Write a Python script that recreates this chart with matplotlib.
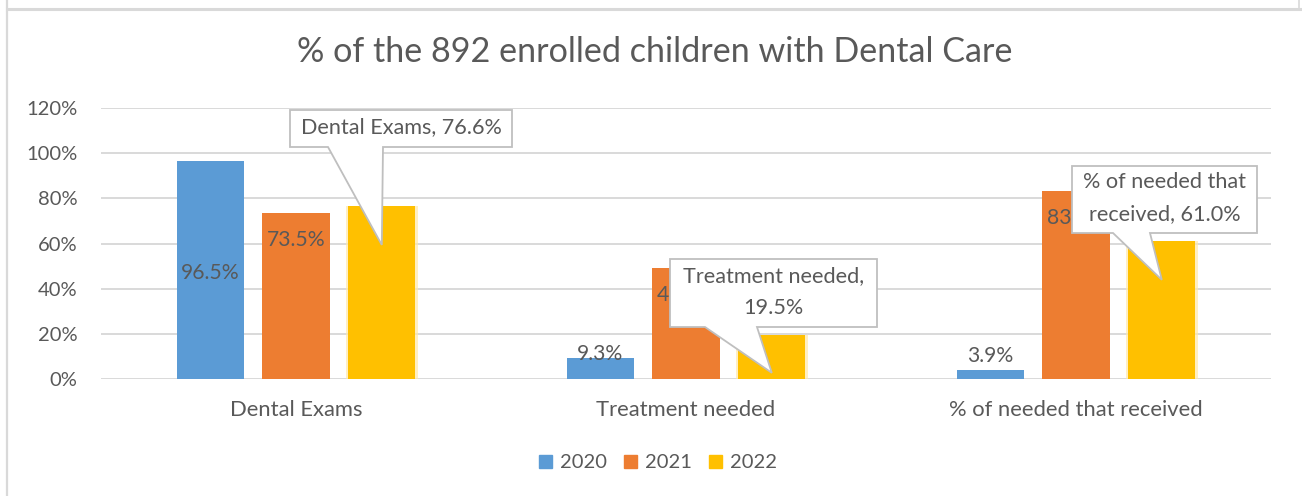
import matplotlib
matplotlib.use("Agg")
import matplotlib.pyplot as plt
import numpy as np
from matplotlib.patches import Polygon, Rectangle
from matplotlib.lines import Line2D

# ---- data ----
categories = ["Dental Exams", "Treatment needed", "% of needed that received"]
years = ["2020", "2021", "2022"]
vals_2020 = [96.5, 9.3, 3.9]
vals_2021 = [73.5, 49.2, 83.1]
vals_2022 = [76.6, 19.5, 61.0]
yticks = [0, 20, 40, 60, 80, 100, 120]
title = "% of the 892 enrolled children with Dental Care"

colors = ["#5B9BD5", "#ED7D31", "#FFC000"]
TXT = "#595959"
GRID = "#D9D9D9"
FONT = ["Lato", "DejaVu Sans"]
plt.rcParams["font.family"] = FONT

W, H = 1302, 496
fig = plt.figure(figsize=(W / 100, H / 100), dpi=100)
fig.patch.set_facecolor("white")

# axes in pixel layout
L, R, T, B = 101, 1271, 108, 379
ax = fig.add_axes([L / W, 1 - B / H, (R - L) / W, (B - T) / H])
ax.set_xlim(-0.5, 2.5)
ax.set_ylim(0, 120)
for s in ax.spines.values():
    s.set_visible(False)
ax.set_yticks(yticks)
ax.set_yticklabels([f"{t}%" for t in yticks])
ax.tick_params(axis="y", length=0, pad=17, labelsize=14.5, labelcolor=TXT)
ax.tick_params(axis="x", length=0, pad=15, labelsize=15.8, labelcolor=TXT)
ax.grid(axis="y", color=GRID, lw=1.4)
ax.set_axisbelow(True)

x = np.arange(len(categories))
bw = 0.172
off = 0.22
series = [vals_2020, vals_2021, vals_2022]
for k, (vals, c) in enumerate(zip(series, colors)):
    xs = x + (k - 1) * off
    if k == 2:
        ax.bar(xs, vals, bw + 0.012, color="#FFE9A8", alpha=0.7, zorder=2)
    ax.bar(xs, vals, bw, color=c, zorder=3, label=years[k])
ax.set_xticks(x)
ax.set_xticklabels(categories)

LFS = 15.2
# data labels for 2020 and 2021 (positions as placed in original)
def lab(xv, yv, s, va="center"):
    ax.text(xv, yv, s, ha="center", va=va, fontsize=LFS, color=TXT, zorder=5)

# 2020
lab(x[0] - off, vals_2020[0] / 2 - 1.5, f"{vals_2020[0]:.1f}%")
lab(x[1] - off, vals_2020[1] - 2.6, f"{vals_2020[1]:.1f}%", va="bottom")
lab(x[2] - off, vals_2020[2] + 1.8, f"{vals_2020[2]:.1f}%", va="bottom")
# 2021
for i in range(3):
    lab(x[i], vals_2021[i] - 12.0, f"{vals_2021[i]:.1f}%")

# callouts for 2022 (box in pixel layout, tip inside bar)
def to_px(xd, yd):
    d = ax.transData.transform((xd, yd))
    return d[0], H - d[1]

pix = matplotlib.transforms.Affine2D().scale(1 / W, -1 / H).translate(0, 1) + fig.transFigure

callouts = [
    # box x0, y0, x1, y1, base x0, base x1, tip value fraction
    (290, 110, 512, 147, 328, 383, 0.775, f"{categories[0]}, {vals_2022[0]:.1f}%"),
    (670, 259, 877, 327, 705, 757, 0.14, f"{categories[1]},\n{vals_2022[1]:.1f}%"),
    (1072, 166, 1257, 233, 1113, 1150, 0.72, "% of needed that\nreceived, " + f"{vals_2022[2]:.1f}%"),
]
for i, (x0, y0, x1, y1, b0, b1, frac, s) in enumerate(callouts):
    tx, ty = to_px(x[i] + off, vals_2022[i] * frac)
    verts = [(x0, y0), (x1, y0), (x1, y1), (b1, y1), (tx, ty), (b0, y1), (x0, y1)]
    poly = Polygon(verts, closed=True, transform=pix, facecolor="white",
                   edgecolor="#BFBFBF", lw=1.3, zorder=6)
    fig.add_artist(poly)
    fig.text(((x0 + x1) / 2) / W, 1 - ((y0 + y1) / 2 - 1) / H, s, ha="center", va="center",
             fontsize=15.6, color=TXT, zorder=7, linespacing=1.75)

# title
fig.text(655 / W, 1 - 52 / H, title, ha="center", va="center", fontsize=24.6, color=TXT)

# legend
handles = [Rectangle((0, 0), 1, 1, color=c) for c in colors]
fig.legend(handles, years, loc="center", bbox_to_anchor=(658 / W, 1 - 463 / H), ncol=3,
           frameon=False, fontsize=14.5, labelcolor=TXT, handlelength=0.65, handleheight=0.65,
           handletextpad=0.4, columnspacing=0.85)

# frame lines
fig.add_artist(Line2D([6.5, W], [8.5, 8.5], transform=pix, color="#D9D9D9", lw=2.2))
fig.add_artist(Line2D([6.5, 6.5], [0, H], transform=pix, color="#D9D9D9", lw=1.6))
fig.add_artist(Line2D([1299, 1299], [0, 8], transform=pix, color="#D9D9D9", lw=1.2))

fig.savefig("out.png", dpi=100)
